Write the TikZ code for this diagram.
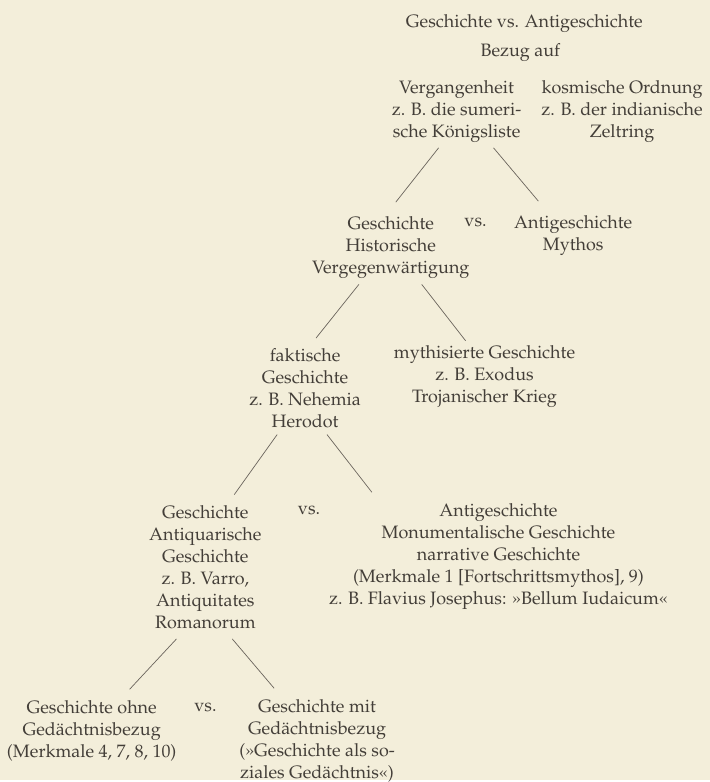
\documentclass[tikz,border=0pt]{standalone}
\usepackage[T1]{fontenc}
\usepackage{mathpazo}
\usepackage{xcolor}
\definecolor{paperBg}{HTML}{F3EEDA}
\definecolor{inkText}{HTML}{433E38}
\definecolor{inkLine}{HTML}{6A645C}
\usetikzlibrary{calc}

\begin{document}
\begin{tikzpicture}[x=1pt,y=-1pt,
  lbl/.style={text=inkText, align=center, inner sep=0pt, font=\fontsize{18}{22}\selectfont},
  link/.style={draw=inkLine, line width=0.7pt}]
  \fill[paperBg] (0,0) rectangle (712,782);
  \node[lbl] (title) at (526,24) {Geschichte vs. Antigeschichte};
  \node[lbl] (bezug) at (522,53) {Bezug auf};
  \node[lbl] (verg) at (458,112) {Vergangenheit\\z. B. die sumeri-\\sche K\"onigsliste};
  \node[lbl] (kosmos) at (624,112) {kosmische Ordnung\\z. B. der indianische\\Zeltring};
  \node[lbl] (gesch) at (392,248) {Geschichte\\Historische\\Vergegenw\"artigung};
  \node[lbl] (vsA) at (477,223) {vs.};
  \node[lbl] (anti) at (575,236) {Antigeschichte\\Mythos};
  \node[lbl] (fakt) at (306,389) {faktische\\Geschichte\\z. B. Nehemia\\Herodot};
  \node[lbl] (myth) at (486,378) {mythisierte Geschichte\\z. B. Exodus\\Trojanischer Krieg};
  \node[lbl] (antiq) at (206,569) {Geschichte\\Antiquarische\\Geschichte\\z. B. Varro,\\Antiquitates\\Romanorum};
  \node[lbl] (vsB) at (310,512) {vs.};
  \node[lbl] (monu) at (500,558) {Antigeschichte\\Monumentalische Geschichte\\narrative Geschichte\\(Merkmale 1 [Fortschrittsmythos], 9)\\z. B. Flavius Josephus: \guillemotright Bellum Iudaicum\guillemotleft};
  \node[lbl] (ohne) at (92,733) {Geschichte ohne\\Ged\"achtnisbezug\\(Merkmale 4, 7, 8, 10)};
  \node[lbl] (vsC) at (206,710) {vs.};
  \node[lbl] (mit) at (318,743) {Geschichte mit\\Ged\"achtnisbezug\\(\guillemotright Geschichte als so-\\ziales Ged\"achtnis\guillemotleft)};
  \draw[link] ($(verg.south)+(-18,5)$) -- ($(gesch.north)+(5,-14)$);
  \draw[link] ($(verg.south)+(37,5)$) -- ($(anti.north)+(-35,-14)$);
  \draw[link] ($(gesch.south)+(-32,6)$) -- ($(fakt.north)+(11,-10)$);
  \draw[link] ($(gesch.south)+(31,6)$) -- ($(myth.north)+(-19,-5)$);
  \draw[link] ($(fakt.south)+(-28,7)$) -- ($(antiq.north)+(29,-11)$);
  \draw[link] ($(fakt.south)+(22,7)$) -- ($(monu.north)+(-127,-11)$);
  \draw[link] ($(antiq.south)+(-29,10)$) -- ($(ohne.north)+(38,-11)$);
  \draw[link] ($(antiq.south)+(27,10)$) -- ($(mit.north)+(-43,-11)$);
\end{tikzpicture}
\end{document}
